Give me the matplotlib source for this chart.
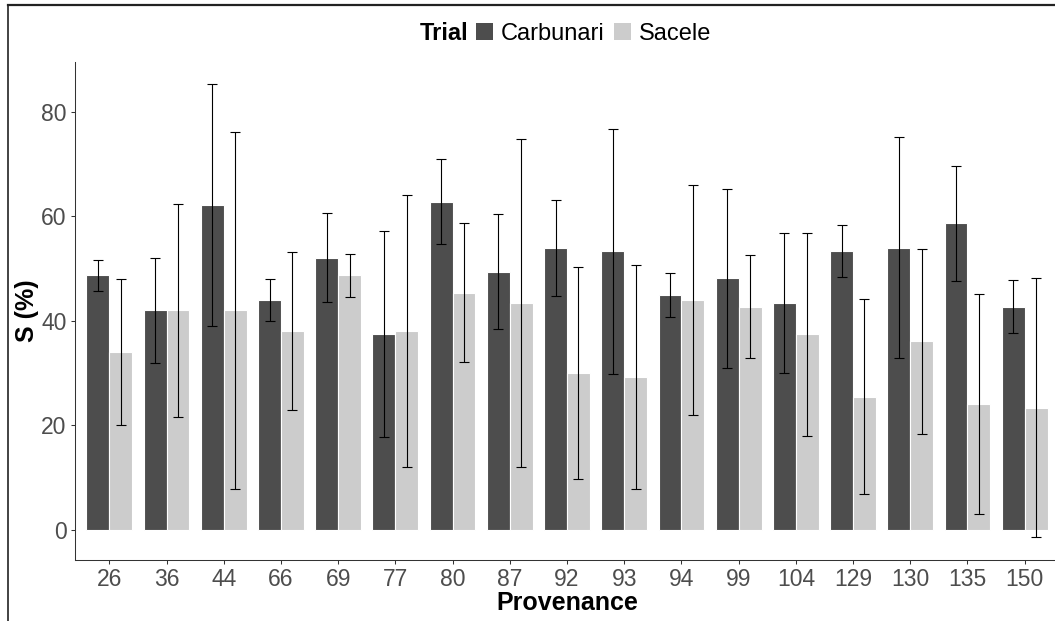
import numpy as np
import matplotlib
matplotlib.use("Agg")
import matplotlib.pyplot as plt
from matplotlib.patches import Patch
from matplotlib.lines import Line2D

plt.rcParams['font.family'] = ['Liberation Sans', 'DejaVu Sans']

# mean S (%) per provenance and its error (+/-)
provenances = ["26", "36", "44", "66", "69", "77", "80", "87", "92",
               "93", "94", "99", "104", "129", "130", "135", "150"]
carb_mean = [48.7, 42.0, 62.1, 44.0, 52.1, 37.4, 62.8, 49.4, 54.0,
             53.3, 45.0, 48.1, 43.4, 53.3, 54.0, 58.7, 42.7]
carb_err = [3.0, 10.0, 23.1, 4.0, 8.5, 19.7, 8.1, 11.0, 9.2,
            23.4, 4.2, 17.1, 13.3, 5.0, 21.2, 11.0, 5.1]
sac_mean = [34.0, 42.0, 42.0, 38.1, 48.7, 38.1, 45.4, 43.4, 30.0,
            29.3, 44.0, 42.7, 37.4, 25.5, 36.1, 24.1, 23.4]
sac_err = [13.9, 20.4, 34.2, 15.1, 4.1, 26.0, 13.3, 31.4, 20.2,
           21.4, 22.0, 9.9, 19.4, 18.6, 17.7, 21.1, 24.8]
trials = ["Carbunari", "Sacele"]
colors = ["#4D4D4D", "#CCCCCC"]

W, H = 1055, 621
fig = plt.figure(figsize=(W / 100, H / 100), dpi=100)
# right edge runs a little past the figure, so the last group is clipped
ax = fig.add_axes([75 / W, 1 - 560 / H, (1059 - 75) / W, (560 - 62) / H])

x = np.arange(len(provenances))
off = 0.2
bw = 0.4
for i, (m, e) in enumerate([(carb_mean, carb_err), (sac_mean, sac_err)]):
    xs = x + (i * 2 - 1) * off
    ax.bar(xs, m, width=bw, color=colors[i], edgecolor="white", linewidth=0.8)
    ax.errorbar(xs, m, yerr=e, fmt="none", ecolor="black", elinewidth=0.8,
                capsize=3.3, capthick=0.8)

ax.set_xlim(-0.6, len(provenances) - 0.4)
ax.set_ylim(-5.75, 89.5)
ax.set_xticks(x)
ax.set_xticklabels(provenances)
ax.set_yticks([0, 20, 40, 60, 80])
ax.tick_params(axis="both", labelsize=16.5, labelcolor="#4D4D4D", color="#333333",
               length=3, width=0.75, pad=3)
for s in ["top", "right"]:
    ax.spines[s].set_visible(False)
for s in ["left", "bottom"]:
    ax.spines[s].set_linewidth(0.75)
    ax.spines[s].set_color("#333333")

ax.set_xlabel("Provenance", fontsize=18, fontweight="bold", labelpad=0)
ax.set_ylabel("S (%)", fontsize=18, fontweight="bold", labelpad=1.5)

# legend across the top
fig.text(420 / W, 1 - 34 / H, "Trial", fontsize=17, fontweight="bold",
         ha="left", va="center")
handles = [Patch(facecolor=c, edgecolor="none", label=t) for c, t in zip(colors, trials)]
fig.legend(handles=handles, loc="center left", bbox_to_anchor=(476 / W, 1 - 34 / H),
           ncol=2, frameon=False, fontsize=17, handlelength=0.72, handleheight=0.72,
           handletextpad=0.34, columnspacing=0.38, borderpad=0, borderaxespad=0)

# frame lines along top and left edge
fig.add_artist(Line2D([8 / W, 1], [1 - 5 / H, 1 - 5 / H], color="#222222", lw=1.6))
fig.add_artist(Line2D([8 / W, 8 / W], [0, 1 - 5 / H], color="#222222", lw=1.2))

fig.savefig("out.png", dpi=100)
